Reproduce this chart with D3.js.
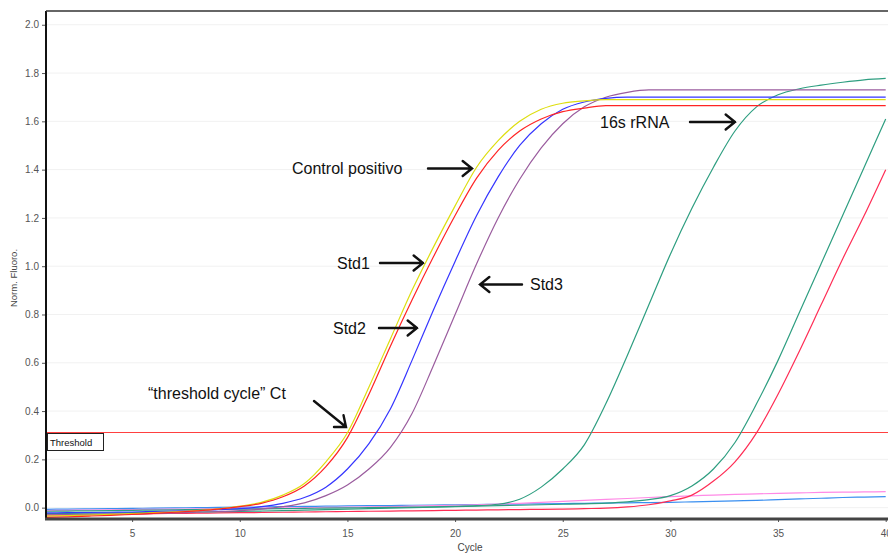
<!DOCTYPE html>
<html>
<head>
<meta charset="utf-8">
<script src="https://cdn.jsdelivr.net/npm/d3@7"></script>
<style>
  html, body { margin: 0; padding: 0; background: #fff; }
  svg { display: block; font-family: "Liberation Sans", Arial, sans-serif; }
</style>
</head>
<body>
<svg id="chart" width="888" height="554"></svg>
<script>
// Amplification cycles
const cycles = [1,2,3,4,5,6,7,8,9,10,11,12,13,14,15,16,17,18,19,20,
                21,22,23,24,25,26,27,28,29,30,31,32,33,34,35,36,37,38,39,40];

// Normalised fluorescence per cycle, one array per well
const ctrlYellow = [-0.035,-0.033,-0.031,-0.028,-0.025,-0.021,-0.017,-0.012,-0.005,0.006,
                    0.022,0.052,0.10,0.19,0.31,0.50,0.70,0.90,1.08,1.25,
                    1.41,1.52,1.60,1.65,1.675,1.685,1.69,1.69,1.69,1.69,
                    1.69,1.69,1.69,1.69,1.69,1.69,1.69,1.69,1.69,1.69];
const ctrlRed    = [-0.040,-0.038,-0.035,-0.032,-0.028,-0.024,-0.019,-0.013,-0.006,0.004,
                    0.018,0.045,0.09,0.17,0.29,0.47,0.67,0.86,1.04,1.21,
                    1.365,1.48,1.56,1.61,1.64,1.655,1.665,1.665,1.665,1.665,
                    1.665,1.665,1.665,1.665,1.665,1.665,1.665,1.665,1.665,1.665];
const stdBlue    = [-0.022,-0.021,-0.020,-0.019,-0.018,-0.016,-0.014,-0.012,-0.008,-0.004,
                    0.004,0.018,0.042,0.085,0.16,0.265,0.41,0.61,0.82,1.02,
                    1.21,1.37,1.50,1.59,1.65,1.68,1.695,1.70,1.70,1.70,
                    1.70,1.70,1.70,1.70,1.70,1.70,1.70,1.70,1.70,1.70];
const stdPurple  = [-0.030,-0.029,-0.028,-0.027,-0.026,-0.024,-0.022,-0.019,-0.016,-0.012,
                    -0.006,0.004,0.02,0.05,0.094,0.16,0.25,0.39,0.59,0.80,
                    1.01,1.20,1.36,1.49,1.59,1.66,1.70,1.72,1.73,1.73,
                    1.73,1.73,1.73,1.73,1.73,1.73,1.73,1.73,1.73,1.73];
const rrnaTeal   = [-0.015,-0.014,-0.013,-0.012,-0.011,-0.010,-0.009,-0.008,-0.007,-0.006,
                    -0.005,-0.004,-0.003,-0.002,-0.001,0.0,0.001,0.002,0.003,0.005,
                    0.008,0.014,0.035,0.085,0.16,0.26,0.43,0.63,0.84,1.05,
                    1.24,1.41,1.56,1.66,1.71,1.735,1.75,1.762,1.772,1.778];
const lateTeal   = [-0.025,-0.024,-0.023,-0.022,-0.021,-0.020,-0.019,-0.018,-0.017,-0.016,
                    -0.014,-0.012,-0.010,-0.008,-0.006,-0.004,-0.002,0.0,0.002,0.004,
                    0.006,0.008,0.010,0.012,0.014,0.016,0.019,0.024,0.033,0.05,
                    0.09,0.16,0.27,0.43,0.61,0.81,1.01,1.21,1.41,1.61];
const lateRed    = [-0.030,-0.029,-0.028,-0.027,-0.026,-0.025,-0.024,-0.023,-0.022,-0.021,
                    -0.020,-0.019,-0.018,-0.017,-0.016,-0.015,-0.014,-0.013,-0.012,-0.011,
                    -0.010,-0.009,-0.008,-0.007,-0.006,-0.004,-0.002,0.003,0.012,0.028,
                    0.052,0.11,0.19,0.31,0.47,0.65,0.84,1.03,1.21,1.40];
const ntcPink    = [-0.012,-0.011,-0.010,-0.009,-0.008,-0.007,-0.006,-0.005,-0.004,-0.003,
                    -0.002,-0.001,0.0,0.001,0.002,0.003,0.004,0.006,0.008,0.010,
                    0.012,0.015,0.018,0.022,0.026,0.030,0.034,0.038,0.042,0.046,
                    0.049,0.052,0.055,0.057,0.059,0.061,0.063,0.064,0.065,0.066];
const ntcBlue    = [-0.007,-0.006,-0.005,-0.004,-0.003,-0.002,-0.001,0.0,0.001,0.002,
                    0.003,0.004,0.005,0.006,0.007,0.008,0.009,0.010,0.011,0.012,
                    0.013,0.014,0.015,0.016,0.017,0.018,0.019,0.020,0.021,0.022,
                    0.024,0.026,0.028,0.030,0.033,0.036,0.039,0.042,0.044,0.046];

const thresholdValue = 0.315;
const yTickValues = [0.0,0.2,0.4,0.6,0.8,1.0,1.2,1.4,1.6,1.8,2.0];
const xTickValues = [5,10,15,20,25,30,35,40];

// Drawing order: flat wells first, then amplification curves
const series = [
  { values: ntcBlue,    color: "#3a8ff0" },
  { values: ntcPink,    color: "#ff8ae6" },
  { values: lateRed,    color: "#ff2d55" },
  { values: lateTeal,   color: "#2e9e80" },
  { values: rrnaTeal,   color: "#2e9e80" },
  { values: stdPurple,  color: "#9a5c9e" },
  { values: stdBlue,    color: "#3535ff" },
  { values: ctrlYellow, color: "#dede10" },
  { values: ctrlRed,    color: "#ff2424" }
];

const svg = d3.select("#chart");
const plotL = 46, plotR = 885.7, plotT = 11, plotB = 519;

const x = d3.scaleLinear().domain([1, 40]).range([plotL, plotR]);
const y = d3.scaleLinear().domain([-0.047, 2.057]).range([plotB, plotT]);

svg.append("defs").append("clipPath").attr("id", "plotClip")
  .append("rect").attr("x", plotL).attr("y", plotT)
  .attr("width", 888 - plotL).attr("height", plotB - plotT);

// faint horizontal grid
svg.append("g").selectAll("line").data(yTickValues).join("line")
  .attr("x1", plotL).attr("x2", 888)
  .attr("y1", d => y(d)).attr("y2", d => y(d))
  .attr("stroke", "#f1f1f1").attr("stroke-width", 1);

// threshold line
const thY = Math.round(y(thresholdValue)) + 0.5;
svg.append("line")
  .attr("x1", plotL).attr("x2", 888)
  .attr("y1", thY).attr("y2", thY)
  .attr("stroke", "#ff4040").attr("stroke-width", 1.3)
  .attr("shape-rendering", "crispEdges");

// curves
const line = d3.line()
  .x((d, i) => x(cycles[i]))
  .y(d => y(d))
  .curve(d3.curveMonotoneX);

svg.append("g").attr("clip-path", "url(#plotClip)")
  .selectAll("path").data(series).join("path")
  .attr("d", d => line(d.values))
  .attr("fill", "none")
  .attr("stroke", d => d.color)
  .attr("stroke-width", 1.2);

// Threshold tag
const tag = svg.append("g");
tag.append("rect")
  .attr("x", plotL + 1.5).attr("y", thY + 1)
  .attr("width", 56).attr("height", 17)
  .attr("fill", "#fff").attr("stroke", "#222").attr("stroke-width", 1);
tag.append("text")
  .attr("x", plotL + 4).attr("y", thY + 13)
  .attr("font-size", 9.5).attr("fill", "#111")
  .text("Threshold");

// Y axis
const yAxis = d3.axisLeft(y).tickValues(yTickValues)
  .tickFormat(d3.format(".1f")).tickSize(4).tickSizeOuter(0).tickPadding(3);
const gy = svg.append("g").attr("transform", `translate(${plotL},0)`).call(yAxis);
gy.select(".domain").remove();
gy.selectAll(".tick line").attr("stroke", "#555");
gy.selectAll(".tick text").attr("font-size", 10).attr("fill", "#555")
  .attr("font-family", "Liberation Sans, Arial, sans-serif");

// X axis
const xAxis = d3.axisBottom(x).tickValues(xTickValues)
  .tickFormat(d3.format("d")).tickSize(3).tickSizeOuter(0).tickPadding(8);
const gx = svg.append("g").attr("transform", `translate(0,${plotB})`).call(xAxis);
gx.select(".domain").remove();
gx.selectAll(".tick line").attr("stroke", "#555");
gx.selectAll(".tick text").attr("font-size", 10).attr("fill", "#555")
  .attr("font-family", "Liberation Sans, Arial, sans-serif");

// frame
svg.append("line").attr("x1", plotL).attr("x2", plotL).attr("y1", plotT).attr("y2", plotB + 1)
  .attr("stroke", "#111").attr("stroke-width", 2);
svg.append("line").attr("x1", plotL).attr("x2", 888).attr("y1", plotT).attr("y2", plotT)
  .attr("stroke", "#333").attr("stroke-width", 1.5);
svg.append("line").attr("x1", plotL - 1).attr("x2", 888).attr("y1", plotB).attr("y2", plotB)
  .attr("stroke", "#444").attr("stroke-width", 3);

// axis titles
svg.append("text").attr("x", 470).attr("y", 551)
  .attr("text-anchor", "middle").attr("font-size", 10).attr("fill", "#444")
  .text("Cycle");
svg.append("text")
  .attr("transform", "translate(17,278) rotate(-90)")
  .attr("text-anchor", "middle").attr("font-size", 9.5).attr("fill", "#444")
  .text("Norm. Fluoro.");

// annotations with arrows
const notes = [
  { text: "Control positivo", tx: 292, ty: 174, x1: 428, y1: 168.5, x2: 472, y2: 168.5 },
  { text: "Std1", tx: 337, ty: 269, x1: 380, y1: 263, x2: 423, y2: 263 },
  { text: "Std2", tx: 333, ty: 334, x1: 379, y1: 328, x2: 417, y2: 328 },
  { text: "Std3", tx: 530, ty: 290, x1: 522, y1: 284.5, x2: 480, y2: 284.5 },
  { text: "16s rRNA", tx: 600, ty: 128, x1: 690, y1: 122, x2: 735, y2: 122 },
  { text: "\u201Cthreshold cycle\u201D Ct", tx: 148, ty: 399, x1: 314, y1: 401, x2: 346, y2: 427 }
];

const ann = svg.append("g");
notes.forEach(n => {
  ann.append("text").attr("x", n.tx).attr("y", n.ty)
    .attr("font-size", 16).attr("fill", "#111").text(n.text);
  const a = Math.atan2(n.y2 - n.y1, n.x2 - n.x1);
  const L = 12, spread = 0.68;
  const h1 = [n.x2 - L * Math.cos(a - spread), n.y2 - L * Math.sin(a - spread)];
  const h2 = [n.x2 - L * Math.cos(a + spread), n.y2 - L * Math.sin(a + spread)];
  const p = d3.path();
  p.moveTo(n.x1, n.y1); p.lineTo(n.x2, n.y2);
  p.moveTo(h1[0], h1[1]); p.lineTo(n.x2, n.y2); p.lineTo(h2[0], h2[1]);
  ann.append("path").attr("d", p.toString())
    .attr("fill", "none").attr("stroke", "#111").attr("stroke-width", 2.4)
    .attr("stroke-linecap", "round").attr("stroke-linejoin", "miter");
});
</script>
</body>
</html>
